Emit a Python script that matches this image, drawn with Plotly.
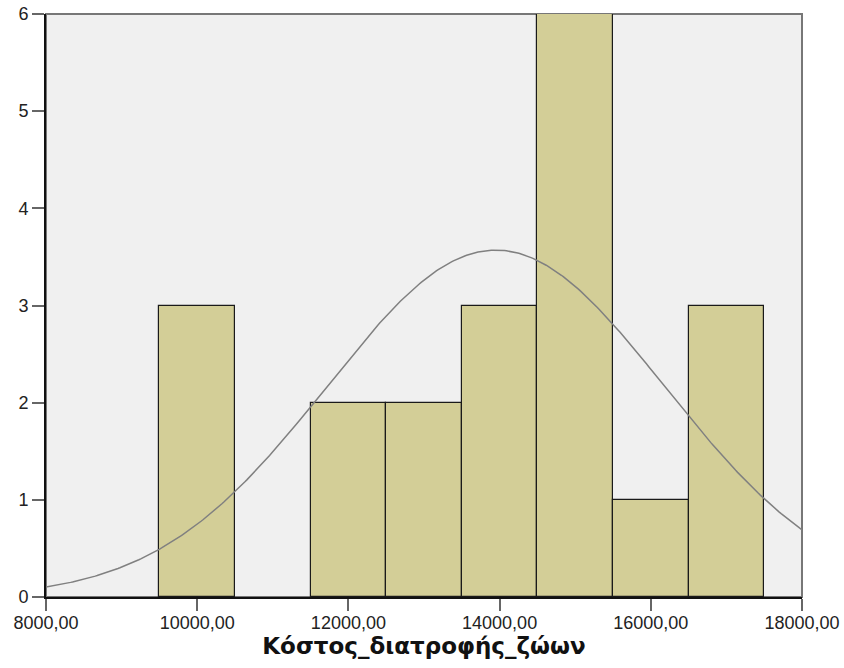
import numpy as np
import plotly.graph_objects as go

# Histogram data (bin centres, counts)
bin_centers = [10000, 12000, 13000, 14000, 15000, 16000, 17000]
counts = [3, 2, 2, 3, 6, 1, 3]
bin_width = 1000

# Fitted normal curve parameters
mean_val = 13950
sd_val = 2235
n_total = 20

x_tick_vals = [8000, 10000, 12000, 14000, 16000, 18000]
x_tick_text = ["8000,00", "10000,00", "12000,00", "14000,00", "16000,00", "18000,00"]
y_tick_vals = [0, 1, 2, 3, 4, 5, 6]
x_title = "Κόστος_διατροφής_ζώων"

xs = np.linspace(8000, 18000, 400)
ys = n_total * bin_width / (sd_val * np.sqrt(2 * np.pi)) * np.exp(-((xs - mean_val) ** 2) / (2 * sd_val ** 2))

fig = go.Figure()
fig.add_trace(go.Bar(
    x=bin_centers, y=counts, width=[bin_width] * len(bin_centers),
    marker=dict(color="#D3CE97", line=dict(color="#1a1a1a", width=1.2)),
    hoverinfo="skip",
))
fig.add_trace(go.Scatter(
    x=xs, y=ys, mode="lines", line=dict(color="#808080", width=1.5), hoverinfo="skip",
))

fig.add_shape(type="rect", xref="paper", yref="paper", x0=0, y0=0, x1=1, y1=1,
              line=dict(color="#777777", width=2), layer="below")

font_family = "Liberation Sans, Arial, sans-serif"
fig.update_layout(
    width=844, height=668,
    margin=dict(l=46, r=42, t=14, b=71),
    plot_bgcolor="#F0F0F0", paper_bgcolor="white",
    showlegend=False, bargap=0,
    font=dict(family=font_family, color="#222222", size=18),
    xaxis=dict(
        range=[8000, 18000], tickvals=x_tick_vals, ticktext=x_tick_text,
        automargin=False,
        showgrid=False, zeroline=False, showline=True, linecolor="#111111", linewidth=2,
        ticks="outside", ticklen=12, tickcolor="#666666", tickwidth=2,
        ticklabelstandoff=-4,
        tickfont=dict(size=18, family=font_family, color="#222222"),
        title=dict(text=x_title, font=dict(size=23, family="DejaVu Sans, sans-serif", color="#111111", weight="bold"), standoff=4),
    ),
    yaxis=dict(
        range=[0, 6], tickvals=y_tick_vals, automargin=False,
        showgrid=False, zeroline=False, showline=True, linecolor="#111111", linewidth=2,
        ticks="outside", ticklen=12, tickcolor="#666666", tickwidth=2,
        tickfont=dict(size=18, family=font_family, color="#222222"),
    ),
)

fig.write_html("out.html")
